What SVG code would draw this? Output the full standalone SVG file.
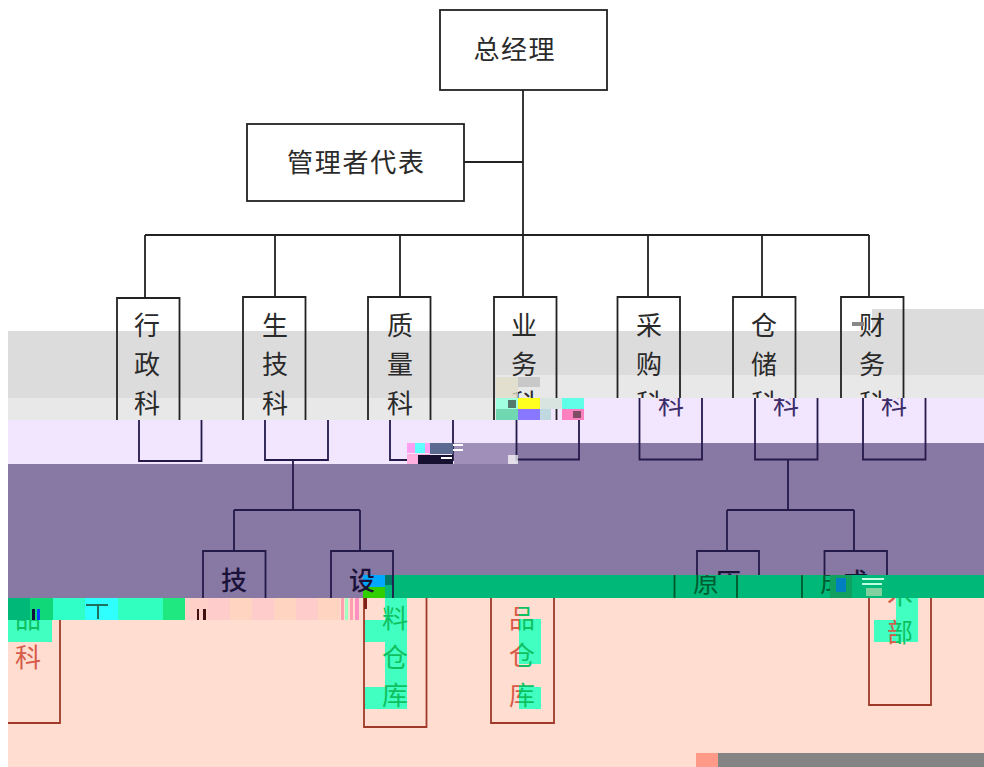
<svg xmlns="http://www.w3.org/2000/svg" width="984" height="767" viewBox="0 0 984 767">
<style>
text{font-family:"Noto Sans CJK SC","Noto Sans CJK JP",sans-serif;text-anchor:middle;font-size:26px;fill:#2a2a2a}
path,rect.box{fill:none;stroke:#222;stroke-width:1.8}
path.p{stroke:#241a4a}
path.r{stroke:#a03a28;stroke-width:1.8}
path.g{stroke:#00582c}
text.d{fill:#1a1238;font-weight:500}
text.v{fill:#3c2c68}
text.n{fill:#005c30}
text.s{fill:url(#split1)}
text.t{fill:url(#split2)}
text.m{fill:#10c060}
text.o{fill:#d85a48}
</style>
<defs>
<clipPath id="c398"><rect x="0" y="0" width="984" height="398"/></clipPath>
<clipPath id="c420"><rect x="0" y="0" width="984" height="420"/></clipPath>
<clipPath id="c398b"><rect x="0" y="398" width="984" height="100"/></clipPath>
<clipPath id="c575"><rect x="0" y="0" width="984" height="575"/></clipPath>
<clipPath id="c598"><rect x="0" y="0" width="984" height="598"/></clipPath>
<clipPath id="c575b"><rect x="0" y="575" width="984" height="23"/></clipPath>
<clipPath id="c598b"><rect x="0" y="598" width="984" height="169"/></clipPath>
<linearGradient id="split1" gradientUnits="userSpaceOnUse" x1="0" y1="0" x2="984" y2="0"><stop offset="0.5274" stop-color="#d85a48"/><stop offset="0.5274" stop-color="#10c060"/></linearGradient>
<linearGradient id="split2" gradientUnits="userSpaceOnUse" x1="0" y1="0" x2="984" y2="0"><stop offset="0.9106" stop-color="#d85a48"/><stop offset="0.9106" stop-color="#10c060"/></linearGradient>
</defs>

<g id="bands">
<rect x="872" y="309" width="112" height="22" fill="#dcdcdc"/>
<rect x="8" y="331" width="976" height="44" fill="#dcdcdc"/>
<rect x="8" y="375" width="488" height="23" fill="#dcdcdc"/>
<rect x="8" y="398" width="488" height="22" fill="#e8e8e8"/>
<rect x="496" y="375" width="488" height="23" fill="#e8e8e8"/>
<rect x="8" y="420" width="508" height="44" fill="#f2e6ff"/>
<rect x="496" y="398" width="488" height="45" fill="#f2e6ff"/>
<rect x="454" y="443" width="62" height="21" fill="#a08fb8"/>
<rect x="516" y="443" width="468" height="132" fill="#8878a4"/>
<rect x="8" y="464" width="976" height="111" fill="#8878a4"/>
<rect x="8" y="575" width="377" height="23" fill="#8878a4"/>
<rect x="385" y="575" width="599" height="23" fill="#00b878"/>
<rect x="363" y="575" width="22" height="12" fill="#00a8ff"/>
<rect x="363" y="587" width="22" height="11" fill="#30d000"/>
<rect x="385" y="575" width="8" height="10" fill="#007868"/>
<rect x="8" y="598" width="976" height="169" fill="#ffddd0"/>
<rect x="696" y="753" width="22" height="14" fill="#ff9a88"/>
<rect x="718" y="753" width="266" height="14" fill="#848484"/>
<rect x="8" y="620" width="44" height="22" fill="#40ffc0"/>
<rect x="364" y="620" width="21" height="22" fill="#40ffc0"/>
<rect x="385" y="598" width="22" height="111" fill="#40ffc0"/>
<rect x="364" y="687" width="21" height="22" fill="#40ffc0"/>
<rect x="519" y="619" width="22" height="45" fill="#40ffc0"/>
<rect x="519" y="687" width="22" height="22" fill="#40ffc0"/>
<rect x="896" y="598" width="22" height="44" fill="#40ffc0"/>
<rect x="874" y="620" width="22" height="22" fill="#40ffc0"/>
</g>

<g id="connectors">
<path d="M523 90V235"/>
<path d="M464 162H523"/>
<path d="M145 235H869"/>
<path d="M145 235V298M275 235V297M400 235V297M523 235V297M648 235V297M762 235V297M869 235V297"/>
<path class="p" d="M293 461V510M234 510H360M234 510V551M360 510V551"/>
<path class="p" d="M788 460V510M727 510H854M727 510V551M854 510V551"/>
</g>

<g id="n-gm">
<rect class="box" x="440" y="10" width="167" height="80"/>
<text x="514" y="59" textLength="81">总经理</text>
</g>
<g id="n-rep">
<rect class="box" x="247" y="124" width="217" height="77"/>
<text x="355.500" y="172" textLength="137">管理者代表</text>
</g>

<g id="n-admin">
<path d="M117 420V298H179.500V420"/>
<path class="p" d="M139 420V461H201.500V420"/>
<text x="147" y="335">行</text><text x="147" y="374">政</text><text x="147" y="413">科</text>
</g>
<g id="n-prod">
<path d="M243 420V297H305.500V420"/>
<path class="p" d="M265 420V460H328V420"/>
<text x="275" y="335">生</text><text x="275" y="374">技</text><text x="275" y="413">科</text>
</g>
<g id="n-qa">
<path d="M368 420V297H430.500V420"/>
<path class="p" d="M390 420V460H453V420"/>
<text x="400" y="335">质</text><text x="400" y="374">量</text><text x="400" y="413">科</text>
</g>
<g id="n-sales">
<path d="M494 420V297H556.500V420"/>
<path class="p" d="M516.500 420V459.500H579V420"/>
<text x="524" y="335">业</text><text x="524" y="374">务</text>
<text x="524" y="413" clip-path="url(#c420)">科</text>
</g>
<g id="n-buy">
<path d="M617.500 398V297H680V398"/>
<path class="p" d="M639.500 398V459.500H702V398"/>
<text x="649" y="335">采</text><text x="649" y="374">购</text>
<text x="649" y="413" clip-path="url(#c398)">科</text>
<text class="v" x="671" y="414" clip-path="url(#c398b)">科</text>
</g>
<g id="n-store">
<path d="M733 398V297H795.500V398"/>
<path class="p" d="M755 398V459.500H817.500V398"/>
<text x="764" y="335">仓</text><text x="764" y="374">储</text>
<text x="764" y="413" clip-path="url(#c398)">科</text>
<text class="v" x="786" y="414" clip-path="url(#c398b)">科</text>
</g>
<g id="n-fin">
<path d="M841 398V297H903.500V398"/>
<path class="p" d="M863 398V459.500H925.500V398"/>
<text x="872" y="335">财</text><text x="872" y="374">务</text>
<text x="872" y="413" clip-path="url(#c398)">科</text>
<text class="v" x="894" y="414" clip-path="url(#c398b)">科</text>
</g>

<g id="n-tech">
<path class="p" d="M203 598V551H265.500V598"/>
<text class="d" x="234" y="590" clip-path="url(#c598)">技</text>
<text class="m" x="28" y="628" clip-path="url(#c598b)">品</text>
<text class="o" x="28" y="667">科</text>
<path class="r" d="M60 598V723H8"/>
</g>
<g id="n-equip">
<path class="p" d="M331 598V551H393V598"/>
<text class="d" x="362" y="590" clip-path="url(#c598)">设</text>
<text class="m" x="395" y="628">料</text>
<text class="m" x="395" y="667">仓</text>
<text class="m" x="395" y="705">库</text>
<path class="r" d="M364 598V727H426.500V598"/>
</g>
<g id="n-goods">
<text class="s" x="522" y="628">品</text>
<text class="s" x="522" y="665">仓</text>
<text class="s" x="522" y="705">库</text>
<path class="r" d="M491 598V723H554V598"/>
</g>
<g id="n-raw">
<path class="p" d="M697 575V551H759V575"/>
<text class="d" x="728" y="592" clip-path="url(#c575)">原</text>
<path class="g" d="M674.500 575V598M737 575V598"/>
<text class="n" x="706" y="592" clip-path="url(#c575b)">原</text>
</g>
<g id="n-finished">
<path class="p" d="M824.500 575V551H887V575"/>
<text class="d" x="855" y="592" clip-path="url(#c575)">成</text>
<path class="g" d="M802 575V598"/>
<text class="n" x="833" y="592" clip-path="url(#c575b)">成</text>
<text class="t" x="900" y="604" clip-path="url(#c598b)">术</text>
<text class="t" x="900" y="642">部</text>
<path class="r" d="M869 598V705H931V598"/>
</g>

<g id="artifacts">
<rect x="496" y="377" width="22" height="21" fill="#e0dcc8" opacity=".8"/><rect x="518" y="377" width="22" height="10" fill="#c8c8c8"/>
<rect x="496" y="398" width="22" height="11" fill="#a0ffe0"/><rect x="518" y="398" width="22" height="11" fill="#ffff20"/><rect x="540" y="398" width="22" height="11" fill="#d8e4e0"/><rect x="562" y="398" width="22" height="11" fill="#60ffe8"/>
<rect x="496" y="409" width="22" height="11" fill="#70d8b0"/><rect x="518" y="409" width="22" height="11" fill="#8878ff"/><rect x="540" y="409" width="11" height="11" fill="#c0d8e0"/><rect x="562" y="409" width="22" height="11" fill="#ff80c0"/>
<rect x="573" y="411" width="8" height="7" fill="#2a2a2a" opacity=".6"/><rect x="508" y="400" width="8" height="8" fill="#222" opacity=".6"/>
<rect x="508" y="455" width="10" height="9" fill="#fff" opacity=".7"/>
<rect x="407" y="443" width="23" height="10" fill="#ffa0f0"/><rect x="415" y="443" width="10" height="10" fill="#60ffff"/>
<rect x="430" y="443" width="23" height="11" fill="#5a6a90"/>
<rect x="407" y="454" width="23" height="10" fill="#ffb0e0"/><rect x="418" y="455" width="35" height="9" fill="#181030"/><rect x="441" y="457" width="11" height="2" fill="#fff"/>
<rect x="453" y="444" width="10" height="2" fill="#fff"/><rect x="453" y="449" width="10" height="2" fill="#fff"/>
<rect x="852" y="322" width="12" height="4" fill="#888"/>
<rect x="8" y="598" width="22" height="22" fill="#00b878"/><rect x="30" y="598" width="23" height="22" fill="#10d878"/><rect x="53" y="598" width="32" height="22" fill="#30ffc8"/><rect x="85" y="598" width="33" height="22" fill="#30ffff"/><rect x="118" y="598" width="45" height="22" fill="#30ffc0"/><rect x="163" y="598" width="22" height="22" fill="#20e880"/><rect x="185" y="598" width="23" height="22" fill="#ffd0c8"/>
<rect x="32" y="609" width="3" height="11" fill="#101040"/><rect x="37" y="609" width="3" height="11" fill="#0040ff"/><rect x="197" y="609" width="2" height="11" fill="#401010"/><rect x="203" y="609" width="3" height="11" fill="#401010"/>
<rect x="86" y="604" width="22" height="2" fill="#207060"/><rect x="97" y="606" width="2" height="13" fill="#207060"/>
<rect x="208" y="598" width="22" height="22" fill="#ffcccc"/><rect x="230" y="598" width="22" height="22" fill="#ffd4c0"/><rect x="252" y="598" width="22" height="22" fill="#ffcccc"/><rect x="274" y="598" width="22" height="22" fill="#ffd4c0"/><rect x="296" y="598" width="22" height="22" fill="#ffcccc"/><rect x="318" y="598" width="22" height="22" fill="#ffd4c0"/>
<rect x="341" y="598" width="3" height="22" fill="#ffa0b0"/><rect x="345" y="598" width="3" height="22" fill="#a0ffc0"/><rect x="350" y="598" width="3" height="22" fill="#ffa0b0"/><rect x="355" y="598" width="4" height="22" fill="#ff90c0"/>
<rect x="364" y="598" width="3" height="11" fill="#802018"/>
<rect x="830" y="575" width="22" height="23" fill="#10a060"/><rect x="836" y="578" width="10" height="14" fill="#0080c0"/>
<rect x="862" y="578" width="22" height="2" fill="#c0ffe0"/><rect x="862" y="583" width="20" height="2" fill="#c0ffe0"/><rect x="866" y="588" width="16" height="8" fill="#80d0a0"/>
</g>
</svg>
